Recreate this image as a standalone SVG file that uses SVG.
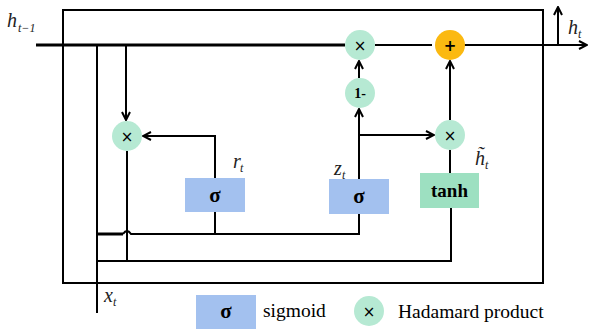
<svg xmlns="http://www.w3.org/2000/svg" width="593" height="329" viewBox="0 0 593 329">
<defs>
<marker id="ah" viewBox="0 0 10 10" refX="9" refY="5" markerWidth="10" markerHeight="10" markerUnits="userSpaceOnUse" orient="auto">
<path d="M1,1 L9,5 L1,9" fill="none" stroke="#000" stroke-width="2"/>
</marker>
<style>
.ln{stroke:#000;stroke-width:2;fill:none}
.th{stroke:#000;stroke-width:3;fill:none}
.sig{fill:#a3c1ef}
.gc{fill:#b6e9d3}
.tanhb{fill:#9de0c1}
.op{font-family:"DejaVu Sans",sans-serif;font-size:15px;text-anchor:middle}
.bt{font-family:"Liberation Serif",serif;font-weight:bold;text-anchor:middle}
.it{font-family:"Liberation Serif",serif;font-style:italic;font-size:20px;fill:#222}
.sub{font-family:"Liberation Serif",serif;font-style:italic;font-size:12px;fill:#222}
.lg{font-family:"Liberation Serif",serif;font-size:19.5px}
</style>
</defs>
<rect x="63" y="10" width="480" height="273" class="ln"/>
<g id="connectors">
<line x1="36" y1="45" x2="345" y2="45" class="th"/>
<line x1="375" y1="45" x2="432" y2="45" class="ln"/>
<line x1="462" y1="45" x2="587" y2="45" class="ln" marker-end="url(#ah)"/>
<line x1="558" y1="45" x2="558" y2="7" class="ln" marker-end="url(#ah)"/>
<line x1="97" y1="45" x2="97" y2="313" class="ln"/>
<line x1="126" y1="45" x2="126" y2="120" class="ln" marker-end="url(#ah)"/>
<polyline points="215,178 215,136 143,136" class="ln" marker-end="url(#ah)"/>
<line x1="127" y1="151" x2="127" y2="261" class="ln"/>
<line x1="215" y1="212" x2="215" y2="234" class="ln"/>
<line x1="97" y1="234" x2="123" y2="234" class="th"/>
<path d="M123,234 Q127,228 131,234 L359,234 L359,214" class="ln"/>
<polyline points="97,261 451,261 451,208" class="ln"/>
<line x1="359" y1="179" x2="359" y2="109" class="ln" marker-end="url(#ah)"/>
<line x1="359" y1="78" x2="359" y2="61" class="ln" marker-end="url(#ah)"/>
<line x1="359" y1="135" x2="434" y2="135" class="ln" marker-end="url(#ah)"/>
<line x1="450" y1="173" x2="450" y2="150" class="ln"/>
<line x1="450" y1="120" x2="450" y2="61" class="ln" marker-end="url(#ah)"/>
</g>
<g id="mul1"><circle cx="360" cy="45" r="15" class="gc"/><text x="360" y="50.5" class="op">×</text></g>
<g id="add"><circle cx="450" cy="45" r="15" fill="#fbb911"/><text x="450" y="51" class="op" font-weight="bold">+</text></g>
<g id="oneminus"><circle cx="360" cy="93" r="15" class="gc"/><text x="360" y="98" class="bt" font-size="14">1-</text></g>
<g id="mulr"><circle cx="127" cy="136" r="15" class="gc"/><text x="127" y="141.5" class="op">×</text></g>
<g id="mulz"><circle cx="450" cy="135" r="15" class="gc"/><text x="450" y="140.5" class="op">×</text></g>
<g id="sigr"><rect x="185" y="178" width="60" height="34" class="sig"/><text x="215" y="202" class="bt" font-size="21">σ</text></g>
<g id="sigz"><rect x="329" y="179" width="60" height="35" class="sig"/><text x="359" y="203" class="bt" font-size="21">σ</text></g>
<g id="tanh"><rect x="420" y="173" width="59" height="35" class="tanhb"/><text x="449.5" y="197" class="bt" font-size="19">tanh</text></g>
<g id="labels">
<text x="7" y="27" class="it">h</text><text x="18" y="32" class="sub">t−1</text>
<text x="568" y="34" class="it">h</text><text x="578" y="38" class="sub">t</text>
<text x="233" y="168" class="it">r</text><text x="240" y="172" class="sub">t</text>
<text x="334" y="175" class="it">z</text><text x="342" y="179" class="sub">t</text>
<text x="475" y="165" class="it">h̃</text><text x="485" y="169" class="sub">t</text>
<text x="104" y="302" class="it">x</text><text x="113" y="306" class="sub">t</text>
</g>
<g id="legend">
<rect x="196" y="295" width="60" height="34" class="sig"/><text x="226" y="318" class="bt" font-size="21">σ</text>
<text x="263" y="317" class="lg">sigmoid</text>
<circle cx="369" cy="311" r="15" class="gc"/><text x="369" y="316.5" class="op">×</text>
<text x="398" y="318" class="lg">Hadamard product</text>
</g>
</svg>
